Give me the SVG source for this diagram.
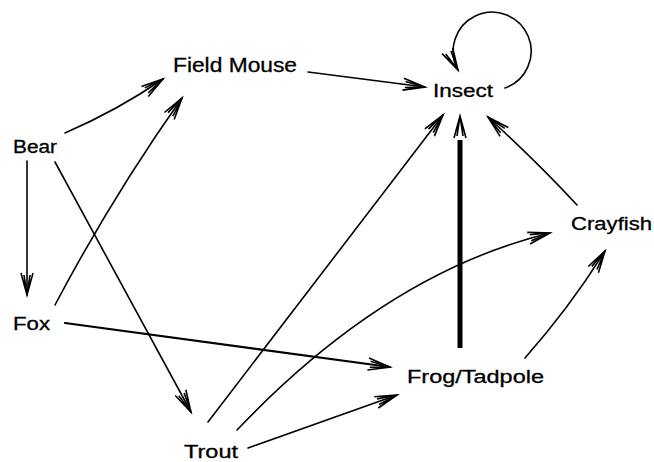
<svg xmlns="http://www.w3.org/2000/svg" width="654" height="462" viewBox="0 0 654 462">
<style>
text{font-family:"Liberation Sans","DejaVu Sans",sans-serif;font-size:18px;fill:#000;stroke:#000;stroke-width:0.3}
.c{fill:none;stroke:#000;stroke-width:1.6;stroke-linecap:round}
</style>
<defs>
<marker id="ah" markerUnits="userSpaceOnUse" markerWidth="30" markerHeight="20" viewBox="-24 -10 26 20" refX="0" refY="0" orient="auto">
<path d="M-22,-6 L0,0 L-22,6 M-20,-3 L0,0 L-20,3" fill="none" stroke="#000" stroke-width="1.6"/>
</marker>
</defs>
<rect width="654" height="462" fill="#fff"/>
<g id="connectors">
<path class="c" d="M308,72 L425,87" marker-end="url(#ah)"/>
<path class="c" d="M65,133 Q118,110 163,79" marker-end="url(#ah)"/>
<path class="c" d="M55,305 Q112,197 182,98" marker-end="url(#ah)"/>
<path class="c" d="M27,161 L27,295" marker-end="url(#ah)"/>
<path class="c" d="M55,162 Q118,277 191,412" marker-end="url(#ah)"/>
<path class="c" d="M65,323 L390,367" style="stroke-width:2.2" marker-end="url(#ah)"/>
<path class="c" d="M208,422 L443,115" marker-end="url(#ah)"/>
<path class="c" d="M237,430 Q386,273 550,233" marker-end="url(#ah)"/>
<path class="c" d="M248,448 L397,395" marker-end="url(#ah)"/>
<path class="c" d="M460,348 L460,140" style="stroke-width:5;stroke-linecap:butt"/>
<path class="c" d="M460,350 L460,116" style="stroke:none" marker-end="url(#ah)"/>
<path class="c" d="M525,358 Q570,307 605,251" marker-end="url(#ah)"/>
<path class="c" d="M577,205 Q540,165 488,117" marker-end="url(#ah)"/>
<path class="c" d="M505,88 A39,39 0 1 0 458,70" marker-end="url(#ah)"/>
</g>
<g id="node-field-mouse"><text x="173" y="72" textLength="124" lengthAdjust="spacingAndGlyphs" style="font-size:20px">Field Mouse</text></g>
<g id="node-insect"><text x="433" y="97" textLength="60" lengthAdjust="spacingAndGlyphs">Insect</text></g>
<g id="node-bear"><text x="13" y="153" textLength="44" lengthAdjust="spacingAndGlyphs">Bear</text></g>
<g id="node-fox"><text x="13" y="330" textLength="37" lengthAdjust="spacingAndGlyphs">Fox</text></g>
<g id="node-crayfish"><text x="571" y="230" textLength="81" lengthAdjust="spacingAndGlyphs">Crayfish</text></g>
<g id="node-frog"><text x="407" y="383" textLength="137" lengthAdjust="spacingAndGlyphs">Frog/Tadpole</text></g>
<g id="node-trout"><text x="184" y="458" textLength="54" lengthAdjust="spacingAndGlyphs">Trout</text></g>
</svg>
